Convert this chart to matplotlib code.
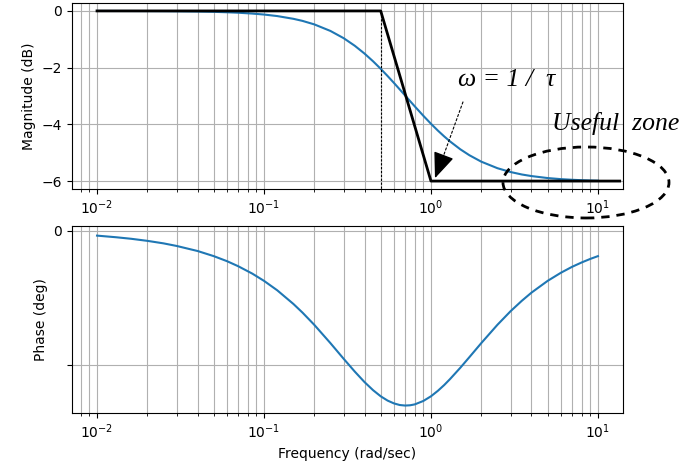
import matplotlib.pyplot as plt
from matplotlib.patches import Ellipse

# frequency points (rad/sec)
freq = [0.01, 0.013, 0.016, 0.02, 0.025, 0.03, 0.04, 0.05, 0.06, 0.07, 0.085,
        0.1, 0.12, 0.15, 0.17, 0.2, 0.25, 0.3, 0.35, 0.4, 0.45,
        0.5, 0.55, 0.6, 0.65, 0.7, 0.75, 0.8, 0.9, 1.0, 1.1, 1.2, 1.3, 1.5, 1.7,
        2.0, 2.5, 3.0, 3.5, 4.0, 5.0, 6.0, 7.0, 8.0, 9.0, 10.0]
mag_db = [-0.001, -0.002, -0.003, -0.005, -0.008, -0.012, -0.021, -0.032, -0.047,
          -0.063, -0.093, -0.127, -0.181, -0.278, -0.351, -0.474, -0.706,
          -0.961, -1.230, -1.504, -1.776, -2.041, -2.296, -2.538, -2.767, -2.981,
          -3.181, -3.366, -3.697, -3.979, -4.220, -4.425, -4.601, -4.881, -5.090,
          -5.315, -5.546, -5.682, -5.768, -5.824, -5.894, -5.932, -5.955, -5.970,
          -5.981, -5.988]
phase_deg = [-0.57, -0.75, -0.92, -1.15, -1.43, -1.72, -2.28, -2.85, -3.41,
             -3.97, -4.79, -5.60, -6.65, -8.17, -9.13, -10.49, -12.53,
             -14.27, -15.70, -16.86, -17.76, -18.44, -18.92, -19.23, -19.41,
             -19.47, -19.44, -19.34, -18.96, -18.44, -17.83, -17.19, -16.53,
             -15.26, -14.08, -12.53, -10.49, -8.97, -7.82, -6.91, -5.60, -4.70,
             -4.04, -3.55, -3.16, -2.85]

# straight-line asymptote
asym_w = [0.01, 0.5, 1.0, 13.5]
asym_db = [0, 0, -6, -6]

xlim = (10 ** -2.15, 10 ** 1.15)

fig = plt.figure(figsize=(6.81, 4.75), dpi=100)
ax1 = fig.add_axes([0.1057, 0.6021, 0.8091, 0.3916])
ax2 = fig.add_axes([0.1057, 0.1305, 0.8091, 0.3937])

# magnitude
ax1.semilogx(freq, mag_db, color='#1f77b4', lw=1.5)
ax1.semilogx(asym_w, asym_db, color='black', lw=2)
ax1.plot([0.5, 0.5], [0, -6.3], color='black', lw=0.8, ls=(0, (2, 1.5)))
ax1.set_xlim(xlim)
ax1.set_ylim(-6.28, 0.28)
ax1.set_yticks([0, -2, -4, -6])
ax1.set_ylabel('Magnitude (dB)')
ax1.grid(True, which='both', color='#b0b0b0', lw=0.8)

# arrow pointing at the corner, dotted tail + solid head
ax1.annotate('', xy=(1.19, -5.1), xytext=(1.555, -3.21),
             arrowprops=dict(arrowstyle='-', lw=0.8, ls=(0, (2, 2)),
                             color='black', shrinkA=0, shrinkB=0))
ax1.annotate('', xy=(1.057, -5.9), xytext=(1.19, -5.1),
             arrowprops=dict(arrowstyle='-|>,head_length=1.6,head_width=0.65',
                             lw=1, color='black', shrinkA=0, shrinkB=0))
ax1.text(2.85, -2.44, 'ω = 1 /  τ', fontsize=18.5, family='Liberation Serif',
         style='italic', ha='center', va='center')

# phase
ax2.semilogx(freq, phase_deg, color='#1f77b4', lw=1.5)
ax2.set_xlim(xlim)
ax2.set_ylim(-20.3, 0.5)
ax2.set_yticks([0, -15])
ax2.set_yticklabels(['0', ''])
ax2.set_ylabel('Phase (deg)')
ax2.set_xlabel('Frequency (rad/sec)')
ax2.grid(True, which='both', color='#b0b0b0', lw=0.8)

# useful zone marker
fig.text(0.8106, 0.741, 'Useful  zone', fontsize=18.5, family='Liberation Serif',
         style='italic', ha='left', va='center')
ell = Ellipse((586 / 681, 1 - 182.5 / 475), 166 / 681, 71 / 475,
              transform=fig.transFigure, fill=False, edgecolor='black',
              lw=2, ls=(0, (3, 2.5)), clip_on=False)
fig.patches.append(ell)

fig.savefig('out.png', dpi=100)
